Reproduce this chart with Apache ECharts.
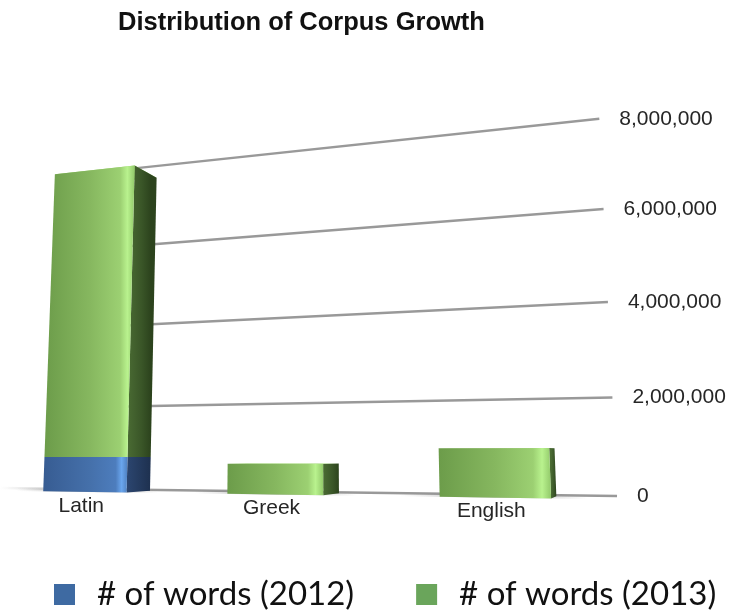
<!DOCTYPE html>
<html>
<head>
<meta charset="utf-8">
<title>Distribution of Corpus Growth</title>
<script src="https://cdn.jsdelivr.net/npm/echarts@6/dist/echarts.min.js"></script>
<style>
  html, body { margin: 0; padding: 0; background: #fff; }
  #chart { width: 733px; height: 613px; }
</style>
</head>
<body>
<div id="chart"></div>
<script>
// ---- data ----
const categories = ['Latin', 'Greek', 'English'];
const words2012 = [780000, 0, 0];          // bottom segment
const words2013 = [6750000, 640000, 960000]; // stacked on top
const valueTicks = [0, 2000000, 4000000, 6000000, 8000000];
const seriesNames = ['# of words (2012)', '# of words (2013)'];
const seriesColors = ['#3e6aa2', '#6aa55b'];

// ---- perspective camera (world: X right, Y up, Z into the scene) ----
const CAM = { f: 1000, cx: 295, cy: 305, yaw: Math.atan(0.3555), pitch: Math.atan(0.15) };
const ct = Math.cos(CAM.yaw), st = Math.sin(CAM.yaw);
const cp = Math.cos(CAM.pitch), sp = Math.sin(CAM.pitch);
function project(X, Y, Z) {
  const x = X * ct + Z * st;
  const y = X * st * sp + Y * cp - Z * ct * sp;
  const z = -X * st * cp + Y * sp + Z * ct * cp;
  return [CAM.cx + CAM.f * x / z, CAM.cy - CAM.f * y / z];
}

// hidden flat grid; its pixels are turned into world units
const GRID = { left: 0, top: 0, width: 636, height: 368 };
const X_SHIFT = -668, Y_BASE = -38;
const toWX = px => px + X_SHIFT;
const toWY = py => Y_BASE + (GRID.top + GRID.height - py);

const WALL_Z = 1000, WALL_X0 = -560, WALL_X1 = -35;
const FRONT_Z = 925, BACK_Z = 976;
const BAR_RATIO = 0.47;

const FACE = {
  '2012': {
    front: [[0, '#375c92'], [0.55, '#4570aa'], [0.86, '#4d7dbd'], [0.93, '#6aa6ee'], [1, '#4f80c0']],
    side: [[0, '#2c4670'], [1, '#1e3150']],
    top: '#5a8cd0'
  },
  '2013': {
    front: [[0, '#6c9c4a'], [0.5, '#86b75f'], [0.84, '#9cd072'], [0.92, '#b9f28e'], [1, '#92c96a']],
    side: [[0, '#4a6b33'], [0.6, '#3a5628'], [1, '#2c431d']],
    top: '#a6da7c'
  }
};

function poly(pts, fill, z2) {
  return { type: 'polygon', z2: z2 || 0, shape: { points: pts }, style: { fill: fill } };
}

function barRenderer(key) {
  return function (params, api) {
    const i = api.value(0), lo = api.value(1), hi = api.value(2);
    if (!(hi > lo)) return null;
    const pLo = api.coord([i, lo]), pHi = api.coord([i, hi]);
    const half = api.size([1, 0])[0] * BAR_RATIO / 2;
    const X1 = toWX(pLo[0] - half), X2 = toWX(pLo[0] + half);
    const Y0 = toWY(pLo[1]), Y1 = toWY(pHi[1]);
    const c = FACE[key];

    const fBL = project(X1, Y0, FRONT_Z), fBR = project(X2, Y0, FRONT_Z);
    const fTR = project(X2, Y1, FRONT_Z), fTL = project(X1, Y1, FRONT_Z);
    const bBR = project(X2, Y0, BACK_Z), bTR = project(X2, Y1, BACK_Z);
    const bTL = project(X1, Y1, BACK_Z);

    const frontGrad = new echarts.graphic.LinearGradient(
      Math.min(fBL[0], fTL[0]), 0, Math.max(fBR[0], fTR[0]), 0,
      c.front.map(s => ({ offset: s[0], color: s[1] })), true);
    const sideGrad = new echarts.graphic.LinearGradient(
      fBR[0], 0, bBR[0], 0,
      c.side.map(s => ({ offset: s[0], color: s[1] })), true);

    const children = [];
    if (lo === 0) {
      // soft contact shadow on the floor
      const s0 = project(X1 - 40, Y0, FRONT_Z + 10), s1 = project(X2 + 30, Y0, FRONT_Z + 10);
      children.push({
        type: 'line', z2: -1, shape: { x1: s0[0], y1: s0[1] - 1, x2: s1[0], y2: s1[1] - 1 },
        style: {
          lineWidth: 3,
          stroke: new echarts.graphic.LinearGradient(s0[0], 0, s1[0], 0, [
            { offset: 0, color: 'rgba(120,120,120,0)' },
            { offset: 0.5, color: 'rgba(120,120,120,0.55)' },
            { offset: 1, color: 'rgba(120,120,120,0)' }], true)
        }
      });
    }
    children.push(
      poly([fTL, fTR, bTR, bTL], c.top, 0),
      poly([fBR, bBR, bTR, fTR], sideGrad, 1),
      poly([fBL, fBR, fTR, fTL], frontGrad, 2)
    );
    return { type: 'group', children: children };
  };
}

function gridRenderer(params, api) {
  const v = api.value(1);
  const Y = toWY(api.coord([0, v])[1]);
  const a = project(WALL_X0, Y, WALL_Z), b = project(WALL_X1, Y, WALL_Z);
  const children = [];
  if (v === 0) {
    // the floor line runs further left and fades out
    const a0 = project(-720, Y, WALL_Z);
    children.push({
      type: 'line', shape: { x1: a0[0], y1: a0[1], x2: a[0], y2: a[1] },
      style: {
        lineWidth: 2.5,
        stroke: new echarts.graphic.LinearGradient(a0[0], 0, a[0], 0,
          [{ offset: 0, color: 'rgba(150,150,150,0)' }, { offset: 1, color: 'rgba(150,150,150,1)' }], true)
      }
    });
  }
  children.push({
    type: 'line', shape: { x1: a[0], y1: a[1], x2: b[0], y2: b[1] },
    style: { stroke: '#999999', lineWidth: 2.5 }
  });
  children.push({
    type: 'text',
    style: {
      text: v.toLocaleString('en-US'), x: b[0] + 20, y: b[1],
      align: 'left', verticalAlign: 'middle',
      font: '21px "Liberation Sans", Arial, sans-serif', fill: '#262626'
    }
  });
  return { type: 'group', children: children };
}

function categoryLabelRenderer(params, api) {
  const i = api.value(0);
  const p = api.coord([i, 0]);
  const q = project(toWX(p[0]), toWY(p[1]), FRONT_Z);
  return {
    type: 'text',
    style: {
      text: categories[i], x: q[0] - 3, y: q[1] + 14,
      align: 'center', verticalAlign: 'middle',
      font: '21px "Liberation Sans", Arial, sans-serif', fill: '#262626'
    }
  };
}

const chart = echarts.init(document.getElementById('chart'), null, { renderer: 'canvas' });
chart.setOption({
  animation: false,
  title: {
    text: 'Distribution of Corpus Growth',
    left: 113, top: 5,
    textStyle: { fontFamily: '"Liberation Sans", Arial, sans-serif', fontWeight: 'bold', fontSize: 25.5, color: '#111' }
  },
  legend: {
    data: seriesNames,
    left: 49, top: 573,
    icon: 'rect', itemWidth: 21, itemHeight: 21, itemGap: 62,
    textStyle: { fontFamily: 'Lato', fontSize: 33, color: '#111', padding: [0, 0, 0, 17] }
  },
  grid: GRID,
  xAxis: { type: 'category', data: categories, show: false },
  yAxis: { type: 'value', min: 0, max: 8000000, interval: 2000000, show: false },
  series: [
    {
      type: 'custom', name: 'grid', z: 1, silent: true,
      data: valueTicks.map(v => [0, v]),
      encode: { x: 0, y: 1 },
      renderItem: gridRenderer
    },
    {
      type: 'custom', name: seriesNames[0], z: 2,
      itemStyle: { color: seriesColors[0] },
      data: categories.map((c, i) => [i, 0, words2012[i]]),
      encode: { x: 0, y: [1, 2] },
      renderItem: barRenderer('2012')
    },
    {
      type: 'custom', name: seriesNames[1], z: 3,
      itemStyle: { color: seriesColors[1] },
      data: categories.map((c, i) => [i, words2012[i], words2012[i] + words2013[i]]),
      encode: { x: 0, y: [1, 2] },
      renderItem: barRenderer('2013')
    },
    {
      type: 'custom', name: 'labels', z: 4, silent: true,
      data: categories.map((c, i) => [i, 0]),
      encode: { x: 0, y: 1 },
      renderItem: categoryLabelRenderer
    }
  ]
});
</script>
</body>
</html>
